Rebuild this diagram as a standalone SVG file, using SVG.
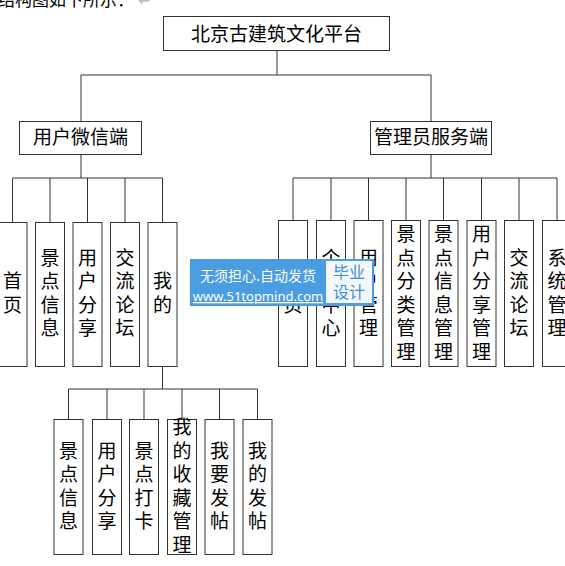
<svg xmlns="http://www.w3.org/2000/svg" width="565" height="566" viewBox="0 0 565 566">
<style>
.box{fill:#fff;stroke:#333;stroke-width:1}
.ln{fill:none;stroke:#333;stroke-width:1}
.t{font-family:"Noto Sans CJK SC","Noto Sans CJK JP",sans-serif;font-size:19px;fill:#000;text-anchor:middle}
.v{font-family:"Noto Sans CJK SC","Noto Sans CJK JP",sans-serif;font-size:19px;fill:#000;text-anchor:middle}
</style>
<rect width="565" height="566" fill="#fff"/>
<text x="-2" y="5.5" font-family="Noto Sans CJK SC, sans-serif" font-size="17" fill="#000">结构图如下所示：<tspan dx="4" fill="#bbb">↵</tspan></text>
<g id="connectors">
<path class="ln" d="M277 51V75M81 75H431M81 75V121M431 75V121"/>
<path class="ln" d="M81 155V178M12.5 178H162.5M12.5 178V222M50 178V222M87.5 178V222M125 178V222M162.5 178V222"/>
<path class="ln" d="M431 155V178M293 178H557M293 178V220M331 178V220M368.5 178V220M406 178V220M443.5 178V220M481.5 178V220M519 178V220M557 178V220"/>
<path class="ln" d="M162.5 367V389M68.5 389H257.5M68.5 389V419M107 389V419M144 389V419M182 389V419M219.5 389V419M257.5 389V419"/>
</g>
<g id="root"><rect class="box" x="163.5" y="16.5" width="226" height="34"/><text class="t" x="276.5" y="40.5">北京古建筑文化平台</text></g>
<g id="user"><rect class="box" x="19.5" y="121.5" width="122" height="33"/><text class="t" x="80.5" y="144">用户微信端</text></g>
<g id="admin"><rect class="box" x="370.5" y="121.5" width="121" height="33"/><text class="t" x="431" y="144">管理员服务端</text></g>

<g id="u1"><rect class="box" x="-2" y="222.5" width="29" height="144"/><text class="v"><tspan x="12.5" y="288">首</tspan><tspan x="12.5" y="312">页</tspan></text></g>
<g id="u2"><rect class="box" x="35.5" y="222.5" width="29" height="144"/><text class="v"><tspan x="50" y="265">景</tspan><tspan x="50" y="288">点</tspan><tspan x="50" y="312">信</tspan><tspan x="50" y="335">息</tspan></text></g>
<g id="u3"><rect class="box" x="73" y="222.5" width="29" height="144"/><text class="v"><tspan x="87.5" y="265">用</tspan><tspan x="87.5" y="288">户</tspan><tspan x="87.5" y="312">分</tspan><tspan x="87.5" y="335">享</tspan></text></g>
<g id="u4"><rect class="box" x="110.5" y="222.5" width="29" height="144"/><text class="v"><tspan x="125" y="265">交</tspan><tspan x="125" y="288">流</tspan><tspan x="125" y="312">论</tspan><tspan x="125" y="335">坛</tspan></text></g>
<g id="u5"><rect class="box" x="148" y="222.5" width="29" height="144"/><text class="v"><tspan x="162.5" y="288">我</tspan><tspan x="162.5" y="312">的</tspan></text></g>

<g id="a1"><rect class="box" x="278.5" y="220.5" width="29" height="146"/><text class="v"><tspan x="293" y="288">首</tspan><tspan x="293" y="312">页</tspan></text></g>
<g id="a2"><rect class="box" x="316.5" y="220.5" width="29" height="146"/><text class="v"><tspan x="331" y="265">个</tspan><tspan x="331" y="288">人</tspan><tspan x="331" y="312">中</tspan><tspan x="331" y="335">心</tspan></text></g>
<g id="a3"><rect class="box" x="354" y="220.5" width="29" height="146"/><text class="v"><tspan x="368.5" y="265">用</tspan><tspan x="368.5" y="288">户</tspan><tspan x="368.5" y="312">管</tspan><tspan x="368.5" y="335">理</tspan></text></g>
<g id="a4"><rect class="box" x="391.5" y="220.5" width="29" height="146"/><text class="v"><tspan x="406" y="241">景</tspan><tspan x="406" y="265">点</tspan><tspan x="406" y="288">分</tspan><tspan x="406" y="312">类</tspan><tspan x="406" y="335">管</tspan><tspan x="406" y="359">理</tspan></text></g>
<g id="a5"><rect class="box" x="429" y="220.5" width="29" height="146"/><text class="v"><tspan x="443.5" y="241">景</tspan><tspan x="443.5" y="265">点</tspan><tspan x="443.5" y="288">信</tspan><tspan x="443.5" y="312">息</tspan><tspan x="443.5" y="335">管</tspan><tspan x="443.5" y="359">理</tspan></text></g>
<g id="a6"><rect class="box" x="467" y="220.5" width="29" height="146"/><text class="v"><tspan x="481.5" y="241">用</tspan><tspan x="481.5" y="265">户</tspan><tspan x="481.5" y="288">分</tspan><tspan x="481.5" y="312">享</tspan><tspan x="481.5" y="335">管</tspan><tspan x="481.5" y="359">理</tspan></text></g>
<g id="a7"><rect class="box" x="504.5" y="220.5" width="29" height="146"/><text class="v"><tspan x="519" y="265">交</tspan><tspan x="519" y="288">流</tspan><tspan x="519" y="312">论</tspan><tspan x="519" y="335">坛</tspan></text></g>
<g id="a8"><rect class="box" x="542.5" y="220.5" width="29" height="146"/><text class="v"><tspan x="557" y="265">系</tspan><tspan x="557" y="288">统</tspan><tspan x="557" y="312">管</tspan><tspan x="557" y="335">理</tspan></text></g>

<g id="m1"><rect class="box" x="54" y="419.5" width="29" height="135"/><text class="v"><tspan x="68.5" y="458">景</tspan><tspan x="68.5" y="481">点</tspan><tspan x="68.5" y="505">信</tspan><tspan x="68.5" y="528">息</tspan></text></g>
<g id="m2"><rect class="box" x="92.5" y="419.5" width="29" height="135"/><text class="v"><tspan x="107" y="458">用</tspan><tspan x="107" y="481">户</tspan><tspan x="107" y="505">分</tspan><tspan x="107" y="528">享</tspan></text></g>
<g id="m3"><rect class="box" x="129.5" y="419.5" width="29" height="135"/><text class="v"><tspan x="144" y="458">景</tspan><tspan x="144" y="481">点</tspan><tspan x="144" y="505">打</tspan><tspan x="144" y="528">卡</tspan></text></g>
<g id="m4"><rect class="box" x="167.5" y="419.5" width="29" height="135"/><text class="v"><tspan x="182" y="434">我</tspan><tspan x="182" y="458">的</tspan><tspan x="182" y="481">收</tspan><tspan x="182" y="505">藏</tspan><tspan x="182" y="528">管</tspan><tspan x="182" y="552">理</tspan></text></g>
<g id="m5"><rect class="box" x="205" y="419.5" width="29" height="135"/><text class="v"><tspan x="219.5" y="458">我</tspan><tspan x="219.5" y="481">要</tspan><tspan x="219.5" y="505">发</tspan><tspan x="219.5" y="528">帖</tspan></text></g>
<g id="m6"><rect class="box" x="243" y="419.5" width="29" height="135"/><text class="v"><tspan x="257.5" y="458">我</tspan><tspan x="257.5" y="481">的</tspan><tspan x="257.5" y="505">发</tspan><tspan x="257.5" y="528">帖</tspan></text></g>

<g id="watermark">
<rect x="190" y="259" width="184" height="47" fill="#4a9de0"/>
<rect x="326" y="261" width="46" height="42" fill="#f4f8fc"/>
<text x="258" y="281" font-family="Noto Sans CJK SC, sans-serif" font-size="14" fill="#fff" text-anchor="middle">无须担心.自动发货</text>
<text x="258" y="301" font-family="Noto Sans, sans-serif" font-size="13" fill="#fff" text-anchor="middle" text-decoration="underline">www.51topmind.com</text>
<text x="349" y="278" font-family="Noto Sans CJK SC, sans-serif" font-size="16" fill="#3d8fd6" text-anchor="middle">毕业</text>
<text x="349" y="298" font-family="Noto Sans CJK SC, sans-serif" font-size="16" fill="#3d8fd6" text-anchor="middle">设计</text>
</g>
</svg>
